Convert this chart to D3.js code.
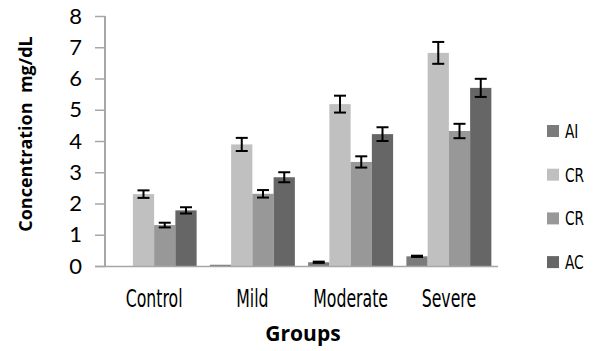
<!DOCTYPE html>
<html><head><meta charset="utf-8">
<script src="https://cdn.jsdelivr.net/npm/d3@7"></script>
<style>body{margin:0;background:#fff}</style>
</head><body>
<svg id="chart" width="598" height="351"></svg>
<script>
const categories = ["Control", "Mild", "Moderate", "Severe"];
const seriesNames = ["AI", "CR", "CR", "AC"];
const seriesColors = ["#7b7b7b", "#c0c0c0", "#989898", "#666666"];
const valuesAI = [0, 0.04, 0.12, 0.31];
const valuesCR1 = [2.30, 3.89, 5.18, 6.82];
const valuesCR2 = [1.31, 2.31, 3.33, 4.32];
const valuesAC = [1.78, 2.84, 4.22, 5.70];
const errAI = [0, 0, 0.02, 0.02];
const errCR1 = [0.12, 0.21, 0.27, 0.35];
const errCR2 = [0.075, 0.12, 0.18, 0.23];
const errAC = [0.10, 0.16, 0.22, 0.29];
const yTicks = [0, 1, 2, 3, 4, 5, 6, 7, 8];

(function () {
const values = [valuesAI, valuesCR1, valuesCR2, valuesAC];
const errs = [errAI, errCR1, errCR2, errAC];

const svg = d3.select("#chart");
const pLeft = 105, pRight = 498, pTop = 16, pBottom = 266;

const x = d3.scaleBand().domain(categories).range([pLeft, pRight]).paddingInner(0.135).paddingOuter(0.0675);
const xs = d3.scaleBand().domain(d3.range(4)).range([0, x.bandwidth()]);
const y = d3.scaleLinear().domain([0, 8]).range([pBottom, pTop]);

const data = [];
categories.forEach((c, i) => values.forEach((arr, s) => data.push({c, s, v: arr[i], e: errs[s][i]})));

svg.append("g").selectAll("rect").data(data.filter(d => d.v > 0)).join("rect")
  .attr("x", d => x(d.c) + xs(d.s))
  .attr("width", xs.bandwidth())
  .attr("y", d => y(d.v))
  .attr("height", d => y(0) - y(d.v))
  .attr("fill", d => seriesColors[d.s]);

const eg = svg.append("g").attr("stroke", "#000").attr("stroke-width", 2);
data.filter(d => d.v > 0 && d.e > 0).forEach(d => {
  const cx = x(d.c) + xs(d.s) + xs.bandwidth() / 2;
  const y1 = y(d.v + d.e), y2 = y(d.v - d.e);
  eg.append("line").attr("x1", cx).attr("x2", cx).attr("y1", y1).attr("y2", y2);
  eg.append("line").attr("x1", cx - 6).attr("x2", cx + 6).attr("y1", y1).attr("y2", y1);
  eg.append("line").attr("x1", cx - 6).attr("x2", cx + 6).attr("y1", y2).attr("y2", y2);
});

const yAxis = svg.append("g").attr("transform", `translate(${pLeft},0)`)
  .call(d3.axisLeft(y).tickValues(yTicks).tickSize(10).tickPadding(13).tickFormat(d3.format("d")));
yAxis.select(".domain").attr("stroke", "#a6a6a6").attr("stroke-width", 2).attr("d", `M0,${pTop}V${pBottom}`);
yAxis.selectAll(".tick line").attr("stroke", "#a6a6a6").attr("stroke-width", 1.5);
yAxis.selectAll(".tick text").attr("font-family", "Lato, 'Open Sans', sans-serif").attr("font-size", 22).attr("fill", "#000");

const xAxis = svg.append("g").attr("transform", `translate(0,${pBottom})`)
  .call(d3.axisBottom(x).tickSize(0).tickPadding(0));
xAxis.select(".domain").attr("stroke", "#a6a6a6").attr("stroke-width", 1.5).attr("d", `M${pLeft - 10},0.5H${pRight}`);
xAxis.selectAll(".tick text").remove();
xAxis.selectAll(".tick").append("text")
  .attr("transform", "translate(0,41) scale(0.7,1)")
  .attr("text-anchor", "middle")
  .attr("font-family", "'DejaVu Sans Condensed', 'DejaVu Sans', sans-serif")
  .attr("font-size", 25)
  .attr("fill", "#000")
  .text(d => d);

svg.append("text").attr("x", 303).attr("y", 341).attr("text-anchor", "middle")
  .attr("font-family", "'Open Sans', sans-serif").attr("font-weight", "bold").attr("font-size", 21)
  .text("Groups");
svg.append("text").attr("transform", "translate(32,134) rotate(-90)").attr("text-anchor", "middle")
  .attr("font-family", "'Open Sans', sans-serif").attr("font-weight", "bold").attr("font-size", 18)
  .attr("xml:space", "preserve").style("white-space", "pre")
  .text("Concentration  mg/dL");

const lg = svg.append("g").attr("transform", "translate(547,125)");
seriesNames.forEach((n, i) => {
  const g = lg.append("g").attr("transform", `translate(0,${i * 43.7})`);
  g.append("rect").attr("width", 12).attr("height", 12).attr("fill", seriesColors[i]);
  g.append("text").attr("transform", "translate(18,13) scale(0.8,1)")
    .attr("font-family", "'DejaVu Sans Condensed', 'DejaVu Sans', sans-serif")
    .attr("font-size", 19).attr("fill", "#000").text(n);
});
})();
</script>
</body></html>
